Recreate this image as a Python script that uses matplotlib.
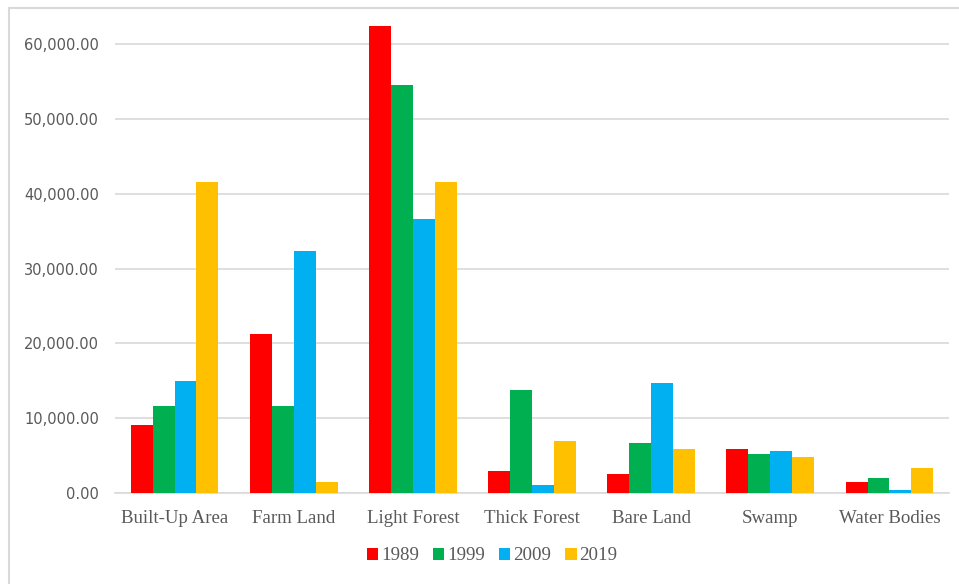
import matplotlib
matplotlib.use("Agg")
import matplotlib.pyplot as plt
import numpy as np
from matplotlib.patches import Rectangle
from matplotlib.ticker import FuncFormatter, MultipleLocator

categories = ["Built-Up Area", "Farm Land", "Light Forest", "Thick Forest",
              "Bare Land", "Swamp", "Water Bodies"]
years = ["1989", "1999", "2009", "2019"]
v1989 = [9100, 21250, 62400, 2950, 2550, 5900, 1480]
v1999 = [11600, 11600, 54550, 13850, 6780, 5300, 2100]
v2009 = [14950, 32400, 36550, 1080, 14700, 5700, 450]
v2019 = [41600, 1480, 41600, 6950, 5880, 4860, 3400]
series = [v1989, v1999, v2009, v2019]
colors = ["#FF0000", "#00B050", "#00B0F0", "#FFC000"]

W, H = 959, 584
fig = plt.figure(figsize=(W / 100, H / 100), dpi=100)
ax = fig.add_axes([115 / W, (H - 493.3) / H, 834 / W, 472 / H])

x = np.arange(len(categories))
bw = 0.184
for i, (vals, c, lab) in enumerate(zip(series, colors, years)):
    ax.bar(x + (i - 1.5) * bw, vals, width=bw, color=c, label=lab, zorder=3)

ax.set_xlim(-0.5, len(categories) - 0.5)
ax.set_ylim(0, 63000)
ax.yaxis.set_major_locator(MultipleLocator(10000))
ax.yaxis.set_major_formatter(FuncFormatter(lambda v, p: f"{v:,.2f}"))
ax.grid(axis="y", color="#D9D9D9", lw=1.2, zorder=0)
for s in ["top", "right", "left"]:
    ax.spines[s].set_visible(False)
ax.spines["bottom"].set_color("#D9D9D9")
ax.spines["bottom"].set_linewidth(1.2)
ax.set_xticks(x)
ax.set_xticklabels(categories, family="Liberation Serif", fontsize=13.6, color="#595959")
ax.tick_params(axis="x", length=0, pad=12)
ax.tick_params(axis="y", length=0, pad=11.5, labelsize=10.5, labelcolor="#595959")
for t in ax.get_yticklabels():
    t.set_family("DejaVu Sans")

leg = fig.legend(loc="center", bbox_to_anchor=(492 / W, (H - 556) / H), ncol=4,
                 frameon=False, prop={"family": "Liberation Serif", "size": 13.6},
                 handlelength=0.6, handleheight=0.6, handletextpad=0.15,
                 columnspacing=0.75, labelcolor="#595959")

fig.add_artist(Rectangle((9 / W, -0.1), 1.2, (H - 8) / H + 0.1, transform=fig.transFigure,
                         fill=False, edgecolor="#D9D9D9", lw=1.5, clip_on=False))

fig.savefig("out.png", dpi=100)
